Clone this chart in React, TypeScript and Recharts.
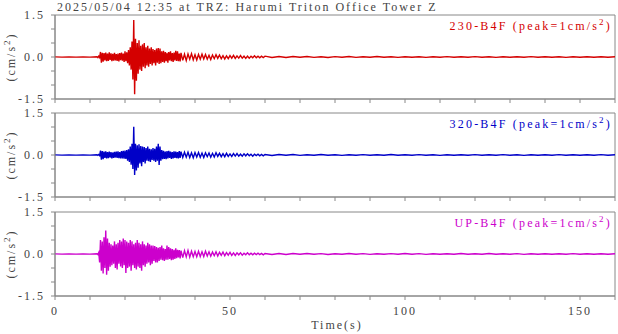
import { LineChart, Line, XAxis, YAxis, ReferenceArea } from 'recharts';

// sampling grid (seconds) for the four stretches of each record
const HEAD_START = 0, HEAD_STEP = 2;
const FAST_START = 12, FAST_STEP = 0.25;
const MID_START = 36.5, MID_STEP = 0.5;
const TAIL_START = 62, TAIL_STEP = 2;

const head = [0.005, -0.005, 0.005, -0.005, 0.005, -0.005];

// 230-B4F
const redFast = [
  0.01, -0.02, 0.03, -0.02,
  0.18, -0.2, 0.15, -0.17,
  0.14, -0.12, 0.16, -0.15,
  0.12, -0.14, 0.17, -0.1,
  0.13, -0.15, 0.11, -0.13,
  0.15, -0.12, 0.1, -0.14,
  0.12, -0.16, 0.14, -0.11,
  0.16, -0.13, 0.12, -0.18,
  0.2, -0.15, 0.17, -0.22,
  0.25, -0.3, 0.35, -0.45,
  0.55, -0.8, 1.32, -1.33,
  0.65, -0.85, 0.5, -0.6,
  0.6, -0.45, 0.4, -0.5,
  0.45, -0.35, 0.5, -0.4,
  0.35, -0.3, 0.4, -0.35,
  0.3, -0.25, 0.35, -0.3,
  0.28, -0.22, 0.25, -0.3,
  0.3, -0.2, 0.32, -0.25,
  0.3, -0.22, 0.2, -0.18,
  0.22, -0.2, 0.18, -0.15,
  0.15, -0.2, 0.18, -0.12,
  0.2, -0.15, 0.14, -0.18,
  0.16, -0.12, 0.22, -0.14,
  0.2, -0.15, 0.12, -0.16,
  0.15,
];
const redMid = [
  -0.12, 0.1, -0.13, 0.11,
  -0.08, 0.12, -0.1, 0.08, -0.11, 0.09,
  -0.08, 0.1, -0.07, 0.09, -0.08, 0.06,
  -0.09, 0.07, -0.06, 0.08, -0.05, 0.07,
  -0.06, 0.05, -0.07, 0.04, -0.06, 0.05,
  -0.04, 0.06, -0.05, 0.04, -0.04, 0.05,
  -0.04, 0.03, -0.05, 0.03, -0.04, 0.03,
  -0.03, 0.04, -0.03, 0.03, -0.03, 0.03,
  -0.02, 0.03,
];
const redTail = [
  -0.02, 0.015, -0.02, 0.02, -0.01, 0.02, -0.015, 0.01, -0.02, 0.015,
  -0.01, 0.02, -0.015, 0.01, -0.01, 0.02, -0.01, 0.01, -0.015, 0.01,
  -0.01, 0.01, -0.015, 0.01, -0.01, 0.015, -0.01, 0.01, -0.01, 0.015,
  -0.01, 0.01, -0.015, 0.01, -0.01, 0.01, -0.01, 0.015, -0.01, 0.01,
  -0.01, 0.01, -0.015, 0.01, -0.01, 0.01, -0.01, 0.01, -0.01, 0.01,
];

// 320-B4F
const blueFast = [
  0.01, -0.01, 0.02, -0.02,
  0.16, -0.17, 0.14, -0.15,
  0.12, -0.1, 0.13, -0.12,
  0.1, -0.11, 0.12, -0.09,
  0.1, -0.12, 0.09, -0.1,
  0.11, -0.09, 0.12, -0.1,
  0.13, -0.11, 0.1, -0.12,
  0.14, -0.12, 0.15, -0.13,
  0.16, -0.14, 0.18, -0.2,
  0.2, -0.25, 0.3, -0.35,
  0.4, -0.5, 1.01, -0.71,
  0.4, -0.55, 0.35, -0.45,
  0.38, -0.3, 0.32, -0.4,
  0.3, -0.25, 0.28, -0.3,
  0.25, -0.2, 0.3, -0.22,
  0.22, -0.25, 0.2, -0.18,
  0.25, -0.2, 0.22, -0.25,
  0.3, -0.2, 0.4, -0.36,
  0.3, -0.2, 0.18, -0.15,
  0.15, -0.14, 0.12, -0.15,
  0.14, -0.12, 0.15, -0.1,
  0.12, -0.14, 0.1, -0.12,
  0.13, -0.1, 0.12, -0.11,
  0.1, -0.12, 0.14, -0.1,
  0.12,
];
const blueMid = [
  -0.09, 0.1, -0.08, 0.1,
  -0.09, 0.08, -0.1, 0.09, -0.07, 0.09,
  -0.08, 0.07, -0.09, 0.08, -0.06, 0.07,
  -0.08, 0.06, -0.07, 0.08, -0.05, 0.06,
  -0.06, 0.05, -0.06, 0.06, -0.05, 0.04,
  -0.05, 0.05, -0.04, 0.05, -0.04, 0.03,
  -0.04, 0.04, -0.03, 0.04, -0.03, 0.03,
  -0.04, 0.03, -0.02, 0.03, -0.03, 0.02,
  -0.03, 0.02,
];
const blueTail = [
  -0.015, 0.02, -0.01, 0.02, -0.015, 0.01, -0.01, 0.02, -0.01, 0.01,
  -0.015, 0.01, -0.01, 0.015, -0.01, 0.01, -0.01, 0.02, -0.01, 0.01,
  -0.01, 0.015, -0.01, 0.01, -0.015, 0.01, -0.01, 0.01, -0.01, 0.015,
  -0.01, 0.01, -0.01, 0.015, -0.01, 0.01, -0.015, 0.01, -0.01, 0.01,
  -0.01, 0.015, -0.01, 0.01, -0.01, 0.01, -0.01, 0.015, -0.01, 0.01,
];

// UP-B4F
const magFast = [
  0.01, -0.02, 0.05, -0.3,
  0.5, -0.6, 0.45, -0.7,
  0.6, -0.5, 0.84, -0.74,
  0.55, -0.6, 0.4, -0.45,
  0.35, -0.4, 0.3, -0.35,
  0.45, -0.5, 0.35, -0.55,
  0.4, -0.35, 0.5, -0.45,
  0.45, -0.5, 0.55, -0.4,
  0.5, -0.68, 0.45, -0.5,
  0.4, -0.45, 0.5, -0.6,
  0.45, -0.4, 0.35, -0.5,
  0.4, -0.55, 0.5, -0.45,
  0.4, -0.5, 0.35, -0.6,
  0.45, -0.4, 0.35, -0.45,
  0.3, -0.35, 0.4, -0.3,
  0.35, -0.4, 0.3, -0.35,
  0.3, -0.25, 0.28, -0.3,
  0.25, -0.3, 0.22, -0.25,
  0.25, -0.2, 0.3, -0.22,
  0.2, -0.25, 0.18, -0.2,
  0.3, -0.2, 0.25, -0.18,
  0.2, -0.22, 0.18, -0.2,
  0.15, -0.18, 0.2, -0.15,
  0.15, -0.12, 0.14, -0.16,
  0.12,
];
const magMid = [
  -0.13, 0.12, -0.1, 0.13,
  -0.11, 0.1, -0.1, 0.09, -0.1, 0.1,
  -0.09, 0.08, -0.09, 0.1, -0.07, 0.08,
  -0.08, 0.07, -0.06, 0.08, -0.07, 0.06,
  -0.05, 0.07, -0.06, 0.05, -0.04, 0.06,
  -0.05, 0.04, -0.05, 0.04, -0.03, 0.04,
  -0.04, 0.03, -0.03, 0.04, -0.03, 0.03,
  -0.03, 0.03, -0.02, 0.03, -0.02, 0.02,
  -0.03, 0.02,
];
const magTail = [
  -0.02, 0.015, -0.02, 0.02, -0.01, 0.02, -0.01, 0.015, -0.02, 0.01,
  -0.01, 0.02, -0.01, 0.015, -0.015, 0.01, -0.01, 0.015, -0.01, 0.02,
  -0.01, 0.015, -0.015, 0.01, -0.01, 0.01, -0.01, 0.02, -0.01, 0.01,
  -0.01, 0.02, -0.01, 0.01, -0.01, 0.015, -0.015, 0.01, -0.01, 0.01,
  -0.01, 0.01, -0.01, 0.015, -0.01, 0.01, -0.01, 0.01, -0.01, 0.01,
];

const X_TICKS = [0, 10, 20, 30, 40, 50, 60, 70, 80, 90, 100, 110, 120, 130, 140, 150, 160];
const X_LABELS = [0, 50, 100, 150];
const Y_TICKS = [-1.5, -1, -0.5, 0, 0.5, 1, 1.5];
const Y_LABELS = [-1.5, 0, 1.5];

const SERIF = '"Liberation Serif", "Times New Roman", serif';
const AXIS = '#888';
const TEXT = '#444';

function build(fast: number[], mid: number[], tail: number[]) {
  const rows: { t: number; v: number }[] = [];
  head.forEach((v, i) => rows.push({ t: HEAD_START + i * HEAD_STEP, v }));
  fast.forEach((v, i) => rows.push({ t: FAST_START + i * FAST_STEP, v }));
  mid.forEach((v, i) => rows.push({ t: MID_START + i * MID_STEP, v }));
  tail.forEach((v, i) => rows.push({ t: TAIL_START + i * TAIL_STEP, v }));
  return rows;
}

const channels = [
  { name: '230-B4F', color: '#d40000', data: build(redFast, redMid, redTail) },
  { name: '320-B4F', color: '#0000c8', data: build(blueFast, blueMid, blueTail) },
  { name: 'UP-B4F', color: '#cc00cc', data: build(magFast, magMid, magTail) },
];

const W = 618;
const PANEL_TOPS = [15, 113, 212];
const PLOT_H = 84;
const PAD = 10;

function Panel({ data, color, top, showX }: { data: { t: number; v: number }[]; color: string; top: number; showX: boolean }) {
  const xh = showX ? 36 : 10;
  const h = PAD + PLOT_H + xh;
  return (
    <div style={{ position: 'absolute', left: 0, top: top - PAD, width: W, height: h }}>
      <LineChart width={W} height={h} data={data} margin={{ top: PAD, right: 3, bottom: 0, left: 0 }}>
        <XAxis
          dataKey="t"
          type="number"
          domain={[0, 160]}
          ticks={X_TICKS}
          interval={0}
          allowDataOverflow
          height={xh}
          tickSize={4}
          tickMargin={6}
          stroke={AXIS}
          tickFormatter={(v) => (showX && X_LABELS.includes(v) ? String(v) : '')}
          tick={{ fill: TEXT, fontSize: 12, fontFamily: SERIF, letterSpacing: 2 }}
        />
        <YAxis
          type="number"
          domain={[-1.5, 1.5]}
          ticks={Y_TICKS}
          interval={0}
          allowDataOverflow
          width={55}
          tickSize={4}
          tickMargin={6}
          stroke={AXIS}
          tickFormatter={(v) => (Y_LABELS.includes(v) ? v.toFixed(1) : '')}
          tick={{ fill: TEXT, fontSize: 12, fontFamily: SERIF, letterSpacing: 2 }}
        />
        <ReferenceArea x1={0} x2={160} y1={-1.5} y2={1.5} fill="none" stroke={AXIS} ifOverflow="visible" />
        <Line type="linear" dataKey="v" stroke={color} strokeWidth={1.4} dot={false} isAnimationActive={false} />
      </LineChart>
    </div>
  );
}

export default function App() {
  return (
    <div style={{ position: 'absolute', left: 0, top: 0, width: W, height: 334, background: '#fff', overflow: 'hidden' }}>
      {channels.map((c, i) => (
        <Panel key={c.name} data={c.data} color={c.color} top={PANEL_TOPS[i]} showX={i === 2} />
      ))}
      <svg width={W} height={334} style={{ position: 'absolute', left: 0, top: 0, pointerEvents: 'none' }}>
        <text x={57} y={11} fontFamily={SERIF} fontSize={12} letterSpacing={2} fill={TEXT}>
          2025/05/04 12:35 at TRZ: Harumi Triton Office Tower Z
        </text>
        {channels.map((c, i) => {
          const top = PANEL_TOPS[i];
          const mid = top + PLOT_H / 2;
          return (
            <g key={c.name}>
              <text x={612} y={top + 15} textAnchor="end" fontFamily={SERIF} fontSize={12} letterSpacing={2.2} fill={c.color}>
                {c.name} (peak=1cm/s<tspan dy={-5} fontSize={9}>2</tspan><tspan dy={5}>)</tspan>
              </text>
              <text
                x={15}
                y={mid}
                textAnchor="middle"
                transform={`rotate(-90, 15, ${mid})`}
                fontFamily={SERIF}
                fontSize={12}
                letterSpacing={2}
                fill={TEXT}
              >
                (cm/s<tspan dy={-5} fontSize={9}>2</tspan><tspan dy={5}>)</tspan>
              </text>
            </g>
          );
        })}
        <text x={337} y={329} textAnchor="middle" fontFamily={SERIF} fontSize={12} letterSpacing={2} fill={TEXT}>
          Time(s)
        </text>
      </svg>
    </div>
  );
}
